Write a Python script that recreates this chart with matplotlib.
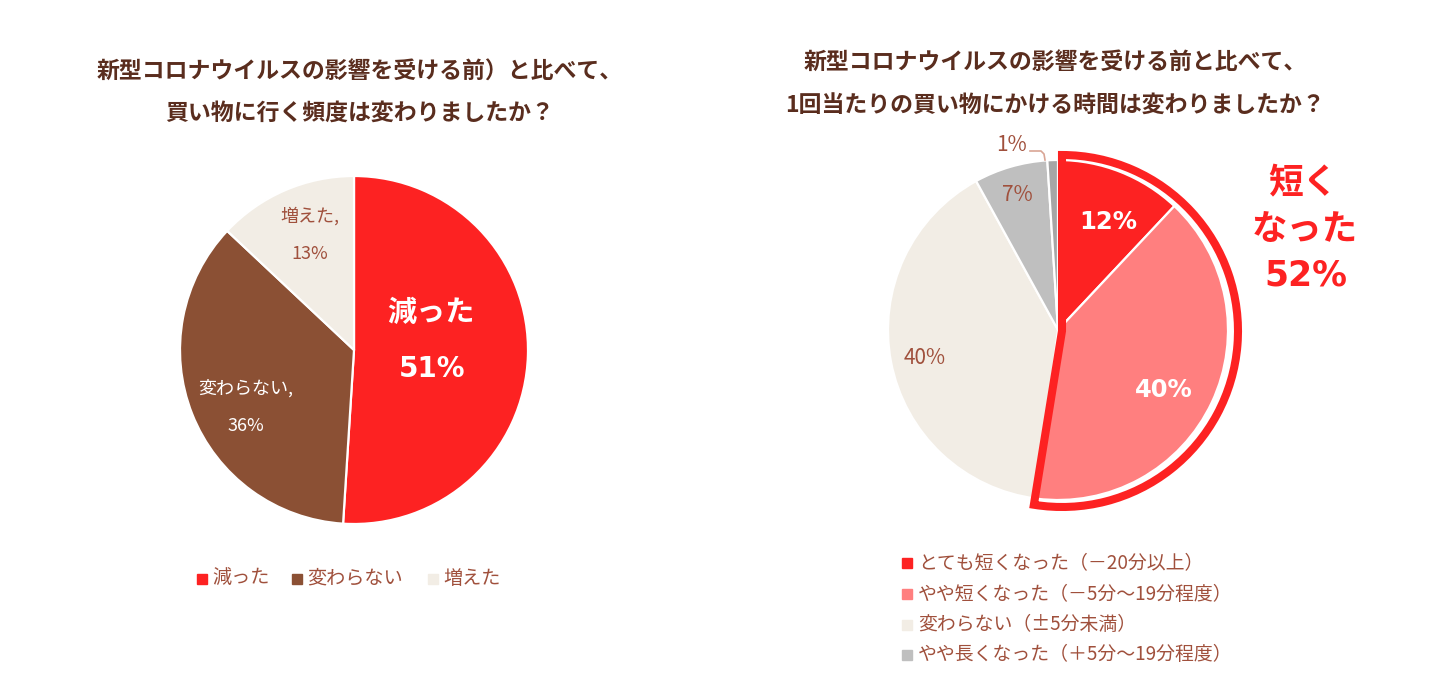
#-----------------------------------------------------------------------
#---- plot.py : deux camemberts (frequence / duree des courses)
#-----------------------------------------------------------------------

import matplotlib
matplotlib.use("Agg")
import matplotlib.pyplot as plt
from matplotlib.patches import Wedge, Rectangle

plt.rcParams['font.family'] = ['Noto Sans CJK JP', 'DejaVu Sans']
NUM_FONT = ['DejaVu Sans']

#---- Donnees
left_title = ["新型コロナウイルスの影響を受ける前）と比べて、",
              "買い物に行く頻度は変わりましたか？"]
left_labels = ["減った", "変わらない", "増えた"]
left_values = [51, 36, 13]

right_title = ["新型コロナウイルスの影響を受ける前と比べて、",
               "1回当たりの買い物にかける時間は変わりましたか？"]
right_labels = ["とても短くなった（－20分以上）",
                "やや短くなった（－5分～19分程度）",
                "変わらない（±5分未満）",
                "やや長くなった（＋5分～19分程度）",
                "長くなった（＋20分以上）"]
right_values = [12, 40, 40, 7, 1]
highlight_text = ["短く", "なった"]

#---- Couleurs
left_colors = ["#FD2222", "#8B5034", "#F2EDE5"]
right_colors = ["#FD2222", "#FF7F7F", "#F2EDE5", "#BFBFBF", "#A6A6A6"]
title_col = "#5A2D1E"
lab_col = "#A0503C"

W, H = 1448, 683


def Y(y):
    # pixels (haut -> bas) vers coordonnees (bas -> haut)
    return H - y


fig = plt.figure(figsize=(W / 100, H / 100), dpi=100)
ax = fig.add_axes([0, 0, 1, 1])
ax.set_xlim(0, W)
ax.set_ylim(0, H)
ax.set_aspect('equal')
ax.axis('off')

wp = dict(edgecolor='white', linewidth=1.6)

#---- Camembert gauche
lc = (354, Y(350))
ax.pie(left_values, colors=left_colors, startangle=90, counterclock=False,
       center=lc, radius=174, wedgeprops=wp, frame=True)

ax.text(360, Y(72), left_title[0], ha='center', va='center', fontsize=16.5,
        fontweight='bold', color=title_col)
ax.text(360, Y(113), left_title[1], ha='center', va='center', fontsize=16.5,
        fontweight='bold', color=title_col)

ax.text(431, Y(312), left_labels[0], ha='center', va='center', fontsize=21,
        fontweight='bold', color='white')
ax.text(432, Y(369), f"{left_values[0]}%", ha='center', va='center', fontsize=20,
        fontweight='bold', color='white', family=NUM_FONT)
ax.text(246, Y(388), left_labels[1] + ",", ha='center', va='center', fontsize=13,
        color='white')
ax.text(246, Y(426), f"{left_values[1]}%", ha='center', va='center', fontsize=13,
        color='white')
ax.text(310, Y(216), left_labels[2] + ",", ha='center', va='center', fontsize=13,
        color=lab_col)
ax.text(310, Y(254), f"{left_values[2]}%", ha='center', va='center', fontsize=13,
        color=lab_col)

#--- Legende gauche
lx = [197, 292, 428]
for i, lab in enumerate(left_labels):
    ax.add_patch(Rectangle((lx[i], Y(584)), 10, 10, color=left_colors[i]))
    ax.text(lx[i] + 15, Y(578), lab, ha='left', va='center', fontsize=13.8,
            color=lab_col)

#---- Camembert droit
rc = (1058, Y(330))
ax.pie(right_values, colors=right_colors, startangle=90, counterclock=False,
       center=rc, radius=170, wedgeprops=wp, frame=True)

#--- Contour "短くなった" (legerement decale, un peu plus large que les parts)
frac = (right_values[0] + right_values[1]) / sum(right_values)
oc = (rc[0] + 4, rc[1] - 1)
ax.add_patch(Wedge(oc, 176, 90 - 360 * frac - 2, 90, fill=False,
                   edgecolor="#FD2222", linewidth=5.8, joinstyle='miter'))

ax.text(1055, Y(62), right_title[0], ha='center', va='center', fontsize=16.5,
        fontweight='bold', color=title_col)
ax.text(1055, Y(106), right_title[1], ha='center', va='center', fontsize=16.5,
        fontweight='bold', color=title_col)

ax.text(1108, Y(222), f"{right_values[0]}%", ha='center', va='center',
        fontsize=17.5, fontweight='bold', color='white', family=NUM_FONT)
ax.text(1164, Y(390), f"{right_values[1]}%", ha='center', va='center',
        fontsize=17.5, fontweight='bold', color='white', family=NUM_FONT)
ax.text(925, Y(358), f"{right_values[2]}%", ha='center', va='center',
        fontsize=15, color=lab_col)
ax.text(1017, Y(195), f"{right_values[3]}%", ha='center', va='center',
        fontsize=15, color=lab_col)
ax.text(1011, Y(145), f"{right_values[4]}%", ha='center', va='center',
        fontsize=15, color=lab_col)
ax.plot([1030, 1041, 1044, 1045], [Y(151), Y(151), Y(154), Y(160)],
        color="#D9A595", lw=1.2)

ax.text(1303, Y(183), highlight_text[0], ha='center', va='center', fontsize=25,
        fontweight='bold', color="#FD2222")
ax.text(1305, Y(229), highlight_text[1], ha='center', va='center', fontsize=25.5,
        fontweight='bold', color="#FD2222")
ax.text(1306, Y(275), f"{right_values[0] + right_values[1]}%", ha='center',
        va='center', fontsize=25, fontweight='bold', color="#FD2222",
        family=NUM_FONT)

#--- Legende droite
ly = [563, 594, 625, 655]
for i in range(4):
    ax.add_patch(Rectangle((902, Y(ly[i] + 5)), 10, 10, color=right_colors[i]))
    ax.text(918, Y(ly[i]), right_labels[i], ha='left', va='center', fontsize=13.6,
            color=lab_col)

ax.set_xlim(0, W)
ax.set_ylim(0, H)
ax.axis('off')

fig.savefig("out.png", dpi=100, facecolor='white')
